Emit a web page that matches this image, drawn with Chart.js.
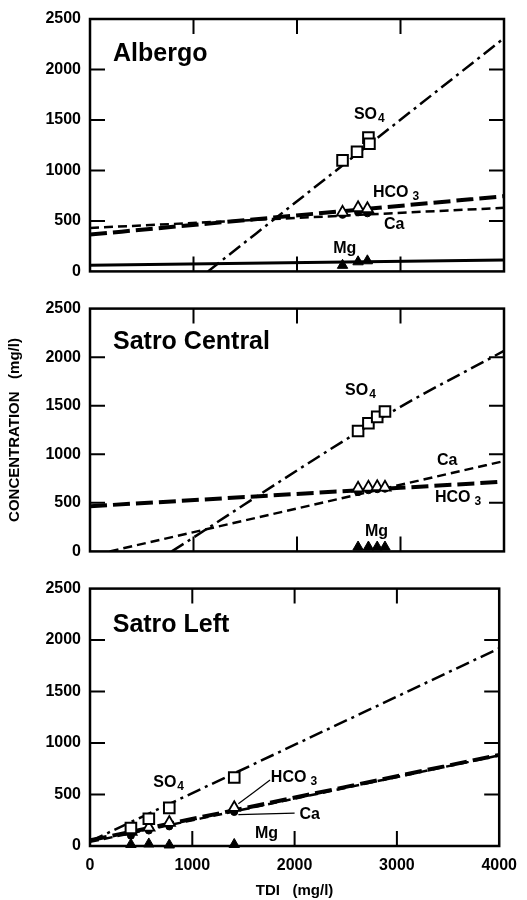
<!DOCTYPE html>
<html>
<head>
<title>TDI vs concentration</title>
<script src="https://cdn.jsdelivr.net/npm/chart.js"></script>
<style>
  body { margin: 0; background: #fff; width: 527px; height: 900px; position: relative; overflow: hidden; }
  canvas { position: absolute; left: 0; }
</style>
</head>
<body>
<canvas id="albergo" width="527" height="290" style="top:0"></canvas>
<canvas id="central" width="527" height="280" style="top:290px"></canvas>
<canvas id="left" width="527" height="330" style="top:570px"></canvas>
<script>
// axis ticks
const tdiTicks = [0, 1000, 2000, 3000, 4000];
const concTicks = [0, 500, 1000, 1500, 2000, 2500];

// Albergo
const albSO4X = [2440, 2580, 2690, 2700];
const albSO4 = [1100, 1185, 1325, 1265];
const albX = [2440, 2590, 2680];
const albHCO3 = [585, 630, 620];
const albCa = [560, 585, 575];
const albMg = [60, 95, 105];
const albSO4Fit = [[1140, 0], [4000, 2310]];
const albHCO3Fit = [[0, 365], [4000, 745]];
const albCaFit = [[0, 430], [4000, 630]];
const albMgFit = [[0, 60], [4000, 112]];

// Satro Central
const cenX = [2590, 2690, 2775, 2850];
const cenSO4 = [1240, 1320, 1385, 1440];
const cenHCO3 = [650, 660, 665, 660];
const cenCa = [610, 630, 640, 645];
const cenMg = [45, 45, 45, 45];
const cenSO4Fit = [[790, 0], [2880, 1415], [4000, 2065]];
const cenHCO3Fit = [[0, 465], [4000, 718]];
const cenCaFit = [[190, 0], [4000, 930]];

// Satro Left
const lefX = [400, 575, 775, 1410];
const lefSO4 = [175, 265, 370, 665];
const lefHCO3 = [140, 180, 228, 372];
const lefCa = [100, 150, 190, 330];
const lefMg = [15, 20, 10, 15];
const lefSO4Fit = [[0, 45], [4000, 1920]];
const lefHCO3Fit = [[0, 55], [4000, 885]];
const lefCaFit = [[0, 40], [4000, 880]];
const lefHCO3Lead = [[1450, 410], [1760, 640]];
const lefCaLead = [[1450, 305], [2000, 320]];

// text labels: [text, subscript, x, y]
const albLabels = [['SO', '4', 2550, 1555], ['HCO', '3', 2734, 782], ['Ca', '', 2840, 468], ['Mg', '', 2350, 229]];
const cenLabels = [['SO', '4', 2464, 1657], ['Ca', '', 3353, 940], ['HCO', '3', 3333, 552], ['Mg', '', 2657, 203]];
const lefLabels = [['SO', '4', 618, 615], ['HCO', '3', 1768, 663], ['Ca', '', 2048, 308], ['Mg', '', 1613, 125]];

const FONT = '"Liberation Sans", Arial, sans-serif';
const xy = (xs, ys) => xs.map((x, i) => ({ x, y: ys[i] }));
const pts = p => p.map(([x, y]) => ({ x, y }));

const lineStyle = {
  SO4: { borderDash: [14, 5, 3, 5], borderWidth: 2.5 },
  HCO3: { borderDash: [17, 6], borderWidth: 4 },
  Ca: { borderDash: [9, 5], borderWidth: 2.5 },
  Mg: { borderDash: [], borderWidth: 3 },
  lead: { borderDash: [], borderWidth: 1.2 }
};
const markStyle = {
  SO4: { pointStyle: 'rect', pointRadius: 7.5, pointBackgroundColor: '#fff', pointBorderWidth: 2 },
  HCO3: { pointStyle: 'triangle', pointRadius: 6.5, pointBackgroundColor: '#fff', pointBorderWidth: 1.8 },
  Ca: { pointStyle: 'circle', pointRadius: 3.5, pointBackgroundColor: '#000', pointBorderWidth: 1 },
  Mg: { pointStyle: 'triangle', pointRadius: 6, pointBackgroundColor: '#000', pointBorderWidth: 1 }
};

function fit(data, kind) {
  return Object.assign({
    data: pts(data), showLine: true, pointRadius: 0, borderColor: '#000',
    cubicInterpolationMode: 'monotone', tension: 0.4, order: 2
  }, lineStyle[kind]);
}
function marks(data, kind) {
  return Object.assign({
    data, showLine: false, pointBorderColor: '#000', clip: false, order: 1
  }, markStyle[kind]);
}

const frame = {
  id: 'frame',
  afterDatasetsDraw(chart) {
    const { ctx, chartArea: a, scales: { x, y } } = chart;
    ctx.save();
    ctx.strokeStyle = '#000';
    ctx.lineWidth = 2.5;
    ctx.strokeRect(a.left, a.top, a.right - a.left, a.bottom - a.top);
    ctx.lineWidth = 2;
    ctx.beginPath();
    tdiTicks.slice(1, -1).forEach(v => {
      const px = x.getPixelForValue(v);
      ctx.moveTo(px, a.top); ctx.lineTo(px, a.top + 15);
      ctx.moveTo(px, a.bottom); ctx.lineTo(px, a.bottom - 15);
    });
    concTicks.slice(1, -1).forEach(v => {
      const py = y.getPixelForValue(v);
      ctx.moveTo(a.left, py); ctx.lineTo(a.left + 15, py);
      ctx.moveTo(a.right, py); ctx.lineTo(a.right - 15, py);
    });
    ctx.stroke();
    ctx.restore();
  }
};

const ionLabels = {
  id: 'ionLabels',
  afterDatasetsDraw(chart, args, opts) {
    const { ctx, scales: { x, y } } = chart;
    ctx.save();
    ctx.fillStyle = '#000';
    ctx.textBaseline = 'middle';
    ctx.textAlign = 'left';
    ctx.font = 'bold 25px ' + FONT;
    ctx.fillText(opts.title, x.getPixelForValue(222), y.getPixelForValue(2150));
    opts.items.forEach(([t, sub, vx, vy]) => {
      const px = x.getPixelForValue(vx), py = y.getPixelForValue(vy);
      ctx.font = 'bold 16px ' + FONT;
      ctx.fillText(t, px, py);
      if (sub) {
        const w = ctx.measureText(t).width;
        ctx.font = 'bold 12px ' + FONT;
        ctx.fillText(sub, px + w + (t === 'HCO' ? 4 : 1), py + 4);
      }
    });
    ctx.restore();
  }
};

function panel(id, datasets, title, labels, o) {
  new Chart(document.getElementById(id), {
    type: 'scatter',
    data: { datasets },
    options: {
      responsive: false,
      animation: false,
      devicePixelRatio: 1,
      layout: { padding: { top: o.top, right: 23, left: 0, bottom: 0 } },
      plugins: {
        legend: { display: false },
        tooltip: { enabled: false },
        ionLabels: { title, items: labels }
      },
      scales: {
        x: {
          type: 'linear', min: 0, max: 4000,
          afterBuildTicks: s => { s.ticks = tdiTicks.map(v => ({ value: v })); },
          afterFit: s => { s.height = o.xh; },
          grid: { display: false, drawTicks: false },
          border: { display: false },
          ticks: { display: !!o.xTitle, color: '#000', padding: 10, callback: v => String(v), font: { family: FONT, size: 16, weight: 'bold' } },
          title: { display: !!o.xTitle, text: o.xTitle || '', color: '#000', padding: { top: 0, bottom: 0 }, font: { family: FONT, size: 15, weight: 'bold' } }
        },
        y: {
          min: 0, max: 2500,
          afterBuildTicks: s => { s.ticks = concTicks.map(v => ({ value: v })); },
          afterFit: s => { s.width = 90; },
          grid: { display: false, drawTicks: false },
          border: { display: false },
          ticks: { color: '#000', padding: 9, callback: v => String(v), font: { family: FONT, size: 16, weight: 'bold' } },
          title: { display: !!o.yTitle, text: o.yTitle || '', color: '#000', padding: { top: 6, bottom: 0 }, font: { family: FONT, size: 15, weight: 'bold' } }
        }
      }
    },
    plugins: [frame, ionLabels]
  });
}

panel('albergo', [
  marks(xy(albSO4X, albSO4), 'SO4'),
  marks(xy(albX, albHCO3), 'HCO3'),
  marks(xy(albX, albCa), 'Ca'),
  marks(xy(albX, albMg), 'Mg'),
  fit(albSO4Fit, 'SO4'),
  fit(albHCO3Fit, 'HCO3'),
  fit(albCaFit, 'Ca'),
  fit(albMgFit, 'Mg')
], 'Albergo', albLabels, { top: 19, xh: 9 });

panel('central', [
  marks(xy(cenX, cenSO4), 'SO4'),
  marks(xy(cenX, cenHCO3), 'HCO3'),
  marks(xy(cenX, cenCa), 'Ca'),
  marks(xy(cenX, cenMg), 'Mg'),
  fit(cenSO4Fit, 'SO4'),
  fit(cenHCO3Fit, 'HCO3'),
  fit(cenCaFit, 'Ca')
], 'Satro Central', cenLabels, { top: 15, xh: 7, yTitle: 'CONCENTRATION   (mg/l)' });

panel('left', [
  marks(xy(lefX, lefSO4), 'SO4'),
  marks(xy(lefX, lefHCO3), 'HCO3'),
  marks(xy(lefX, lefCa), 'Ca'),
  marks(xy(lefX, lefMg), 'Mg'),
  fit(lefSO4Fit, 'SO4'),
  fit(lefHCO3Fit, 'HCO3'),
  fit(lefCaFit, 'Ca'),
  fit(lefHCO3Lead, 'lead'),
  fit(lefCaLead, 'lead')
], 'Satro Left', lefLabels, { top: 16, xh: 54, xTitle: 'TDI   (mg/l)' });
</script>
</body>
</html>
